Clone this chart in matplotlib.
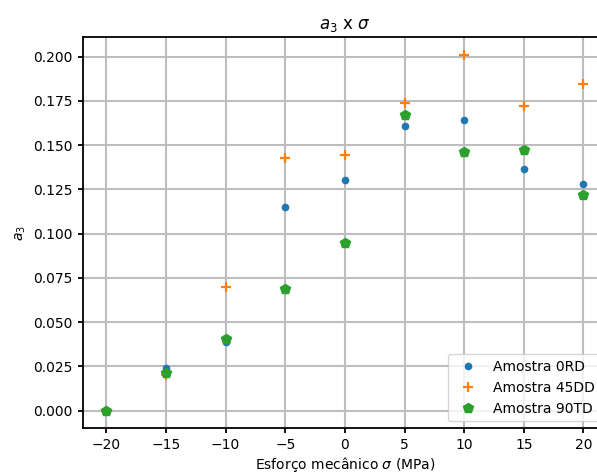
import numpy as np
import matplotlib
matplotlib.use("Agg")
import matplotlib.pyplot as plt

# tensões aplicadas (MPa)
sigma = [-20, -15, -10, -5, 0, 5, 10, 15, 20]

# coeficiente a3 para cada amostra
a3_0RD = [0.0, 0.0242, 0.0387, 0.1150, 0.1303, 0.1609, 0.1639, 0.1367, 0.1282]
a3_45DD = [0.0, 0.0200, 0.0697, 0.1428, 0.1441, 0.1736, 0.2008, 0.1721, 0.1845]
a3_90TD = [0.0, 0.0210, 0.0406, 0.0686, 0.0946, 0.1670, 0.1458, 0.1471, 0.1220]

plt.rcParams['axes.linewidth'] = 1.3
plt.rcParams['xtick.major.width'] = 1.3
plt.rcParams['ytick.major.width'] = 1.3
plt.rcParams['grid.linewidth'] = 1.5
plt.rcParams['grid.color'] = '#bdbdbd'

fig = plt.figure(figsize=(5.97, 4.73), dpi=100)
ax = fig.add_axes([0.1382, 0.0945, 0.879, 0.8265])

ax.plot(sigma, a3_0RD, '.', ms=9, label='Amostra 0RD')
ax.plot(sigma, a3_45DD, '+', ms=7.5, mew=1.6, label='Amostra 45DD')
ax.plot(sigma, a3_90TD, 'p', ms=7.5, label='Amostra 90TD')

ax.set_title(r'$a_3$ x $\sigma$')
ax.set_xlabel(r'Esforço mecânico $\sigma$ (MPa)', labelpad=2.5)
ax.set_ylabel(r'$a_3$')
ax.set_xticks(np.arange(-20, 21, 5))
ax.grid(True)
ax.legend(loc='lower right')

fig.savefig('out.png', dpi=100)
